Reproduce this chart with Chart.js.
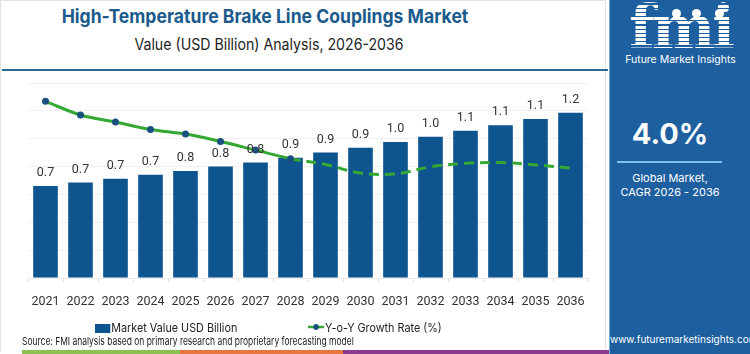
<!DOCTYPE html>
<html>
<head>
<meta charset="utf-8">
<script src="https://cdn.jsdelivr.net/npm/chart.js@4.4.1/dist/chart.umd.min.js"></script>
<style>
  html,body{margin:0;padding:0;background:#fff;}
  body{width:750px;height:354px;position:relative;overflow:hidden;font-family:Inter,"Open Sans",sans-serif;}
  #frame{position:absolute;left:0;top:0;width:606px;height:351px;border:1px solid #e4e4e4;border-bottom:none;box-sizing:border-box;}
  #title{position:absolute;left:0;width:530px;top:5px;text-align:center;font-weight:700;font-size:19px;color:#1b5a8c;transform:scaleX(0.925);}
  #subtitle{position:absolute;left:0;width:538px;top:34px;text-align:center;font-size:16px;color:#222;transform:scaleX(0.885);}
  #hr{position:absolute;left:2px;top:69px;width:606px;height:2px;background:#2a6a95;}
  #wrap{position:absolute;left:0;top:75px;width:608px;height:246px;}
  #legend{position:absolute;top:319px;left:0;width:608px;height:18px;font-size:12px;color:#222;}
  .lg{position:absolute;top:0;line-height:18px;white-space:nowrap;transform-origin:left center;}
  #source{position:absolute;left:22px;top:334px;font-size:11px;color:#222;white-space:nowrap;transform:scaleX(0.77);transform-origin:left top;}
  #strip{position:absolute;left:22px;top:350px;height:4px;width:588px;}
  #panel{position:absolute;left:609px;top:0;width:141px;height:354px;background:#1d5f9f;border-left:1px solid #6fb2d8;color:#fff;}
  #logo{position:absolute;left:0;width:141px;top:-8px;text-align:center;font-family:"DejaVu Serif",serif;font-weight:700;font-size:60px;letter-spacing:-3px;
        background:repeating-linear-gradient(#fff 0 3px, #1d5f9f 3px 4.2px);-webkit-background-clip:text;background-clip:text;color:transparent;}
  .dot{position:absolute;top:9px;width:9px;height:9px;border-radius:50%;background:#fff;}
  #fmiName{position:absolute;left:0;width:141px;top:53px;text-align:center;font-size:10.5px;}
  #cagr{position:absolute;left:0;width:120px;top:116px;text-align:center;font-weight:700;font-size:29px;}
  #cline{position:absolute;left:7px;top:161px;width:105px;height:2px;background:#7fc4e8;}
  #cagrTxt{position:absolute;left:0;width:120px;top:171px;text-align:center;font-size:11px;line-height:14px;}
  #www{position:absolute;left:0;width:140px;top:333px;text-align:center;font-size:10px;}
</style>
</head>
<body>
<div id="frame"></div>
<div id="title">High-Temperature Brake Line Couplings Market</div>
<div id="subtitle">Value (USD Billion) Analysis, 2026-2036</div>
<div id="hr"></div>
<div id="wrap"><canvas id="c"></canvas></div>
<div id="legend">
  <div class="lg" style="left:95px;transform:scaleX(0.9);"><span style="display:inline-block;width:17px;height:9px;background:#0e5590;vertical-align:-1px;margin-right:1px;"></span>Market Value USD Billion</div>
  <div class="lg" style="left:308px;transform:scaleX(0.9);"><svg width="18" height="10" style="vertical-align:0px;margin-right:1px;"><line x1="0" y1="5" x2="18" y2="5" stroke="#34a832" stroke-width="2.5"/><circle cx="9" cy="5" r="3" fill="#1a4f80"/></svg>Y-o-Y Growth Rate (%)</div>
</div>
<div id="source">Source: FMI analysis based on primary research and proprietary forecasting model</div>
<svg id="strip" width="588" height="4"><rect x="0" y="0" width="158" height="4" fill="#8cc152"/><rect x="158" y="0" width="163" height="4" fill="#e8753e"/><rect x="321" y="0" width="267" height="4" fill="#8b3b8e"/></svg>
<div id="panel">
  <div id="logo">fmi</div>
  <div class="dot" style="left:62px;"></div>
  <div class="dot" style="left:82px;"></div>
  <div class="dot" style="left:105px;"></div>
  <div id="fmiName">Future Market Insights</div>
  <div id="cagr">4.0%</div>
  <div id="cline"></div>
  <div id="cagrTxt">Global Market,<br>CAGR 2026 - 2036</div>
  <div id="www">www.futuremarketinsights.com</div>
</div>
<script>
const years = ['2021','2022','2023','2024','2025','2026','2027','2028','2029','2030','2031','2032','2033','2034','2035','2036'];
const marketValue = [0.66,0.685,0.713,0.741,0.769,0.801,0.829,0.864,0.901,0.936,0.976,1.015,1.057,1.096,1.141,1.187];
const yoyGrowth = [4.53,4.18,4.00,3.81,3.69,3.50,3.28,3.06,2.91,2.69,2.67,2.85,2.94,2.96,2.90,2.82];
const forecastFrom = 7; // index where dashed segment starts

const tickFont = 'Roboto, sans-serif';

const labelPlugin = {
  id:'barLabels',
  afterDatasetsDraw(chart){
    const ctx = chart.ctx;
    const meta = chart.getDatasetMeta(1);
    ctx.save();
    ctx.font = '12.5px ' + tickFont;
    ctx.fillStyle = '#333';
    ctx.textAlign = 'center';
    ctx.textBaseline = 'middle';
    meta.data.forEach((bar,i)=>{
      ctx.fillText(marketValue[i].toFixed(1), bar.x, bar.y - 13);
    });
    ctx.restore();
  }
};

new Chart(document.getElementById('c'), {
  data:{
    labels: years,
    datasets:[
      {
        type:'line',
        label:'Y-o-Y Growth Rate (%)',
        data: yoyGrowth,
        yAxisID:'y1',
        borderColor:'#34a832',
        borderWidth:3,
        tension:0.35,
        pointRadius: ctx => ctx.dataIndex <= forecastFrom ? 3.5 : 0,
        pointBackgroundColor:'#1a4f80',
        pointBorderColor:'#1a4f80',
        pointBorderWidth:0,
        segment:{ borderDash: ctx => ctx.p0DataIndex >= forecastFrom ? [10,6] : undefined },
        order:0
      },
      {
        type:'bar',
        label:'Market Value USD Billion',
        data: marketValue,
        yAxisID:'y',
        backgroundColor:'#0e5590',
        categoryPercentage:0.8,
        barPercentage:0.88,
        order:1
      }
    ]
  },
  options:{
    responsive:true,
    maintainAspectRatio:false,
    animation:false,
    layout:{padding:{left:28,right:20,top:8,bottom:0}},
    plugins:{legend:{display:false},tooltip:{enabled:false}},
    scales:{
      x:{
        offset:true,
        grid:{display:true,drawOnChartArea:false,drawTicks:true,tickLength:4,color:'#e6dccf',offset:true},
        border:{display:true,color:'#e8e8e8'},
        ticks:{color:'#333',font:{size:12.5,family:tickFont},padding:12,maxRotation:0,autoSkip:false}
      },
      y:{
        display:true,
        min:0,max:1.4,
        ticks:{display:false,stepSize:0.2},
        grid:{color:'#eeeeee',drawTicks:false},
        border:{display:false}
      },
      y1:{
        display:false,
        min:0,max:5
      }
    }
  },
  plugins:[labelPlugin]
});
</script>
</body>
</html>
